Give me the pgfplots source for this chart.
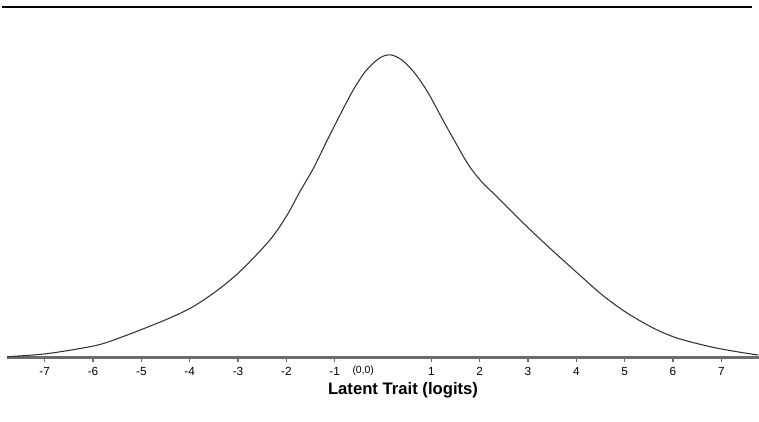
\documentclass[border=0pt]{standalone}
\usepackage{pgfplots}
\pgfplotsset{compat=1.18}
\usepackage{fontspec}
\setmainfont{Liberation Sans}
\pgfplotstableread{
x y
-7.78 0.8
-6.96 3.8
-5.96 11.8
-5.46 19.5
-4.97 28.5
-4.46 38.5
-3.96 50.0
-3.46 66.0
-2.96 86.0
-2.34 117.5
-1.99 142.0
-1.72 165.8
-1.44 189.2
-1.17 215.8
-0.89 242.5
-0.61 268.0
-0.34 287.5
-0.06 299.8
0.16 302.6
0.39 297.5
0.66 284.2
0.94 264.2
1.22 239.2
1.49 215.8
1.77 192.5
2.04 175.8
2.32 162.5
2.63 147.5
2.98 130.8
3.46 109.0
4.01 85.0
4.55 62.0
5.05 44.5
5.59 29.5
6.08 19.5
6.77 10.8
7.32 5.8
7.76 2.5
}\curve
\begin{document}
\begin{tikzpicture}
\path[use as bounding box] (0,0) rectangle (569.25pt,315.75pt);
\begin{axis}[
  at={(5.25pt,47.625pt)}, anchor=south west,
  scale only axis, width=564pt, height=262.875pt,
  xmin=-7.78, xmax=7.78, ymin=0, ymax=350.5,
  axis x line=bottom, axis y line=none,
  x axis line style={-, draw=gray!85!black, line width=1.6pt},
  xtick={-7,-6,-5,-4,-3,-2,-1,1,2,3,4,5,6,7},
  xticklabels={-7,-6,-5,-4,-3,-2,-1,1,2,3,4,5,6,7},
  tick align=outside, major tick length=3.5pt,
  x tick style={draw=gray!85!black, line width=0.9pt},
  xticklabel style={font=\fontsize{8.8}{10}\selectfont, inner sep=1pt, yshift=-2.5pt},
  xlabel={\textbf{Latent Trait (logits)}},
  xlabel style={at={(axis description cs:0.5266,0)}, anchor=center, yshift=-24.4pt, font=\fontsize{12.5}{14}\selectfont},
  clip=false,
]
\addplot[smooth, draw=black!80, line width=0.8pt] table[x=x,y=y] {\curve};
\node[font=\fontsize{7.8}{9}\selectfont] at (axis cs:-0.41,0) [yshift=-10pt] {(0,0)};
\draw[line width=1.1pt] (rel axis cs:-0.007,1) -- (rel axis cs:0.99,1);
\end{axis}
\end{tikzpicture}
\end{document}
